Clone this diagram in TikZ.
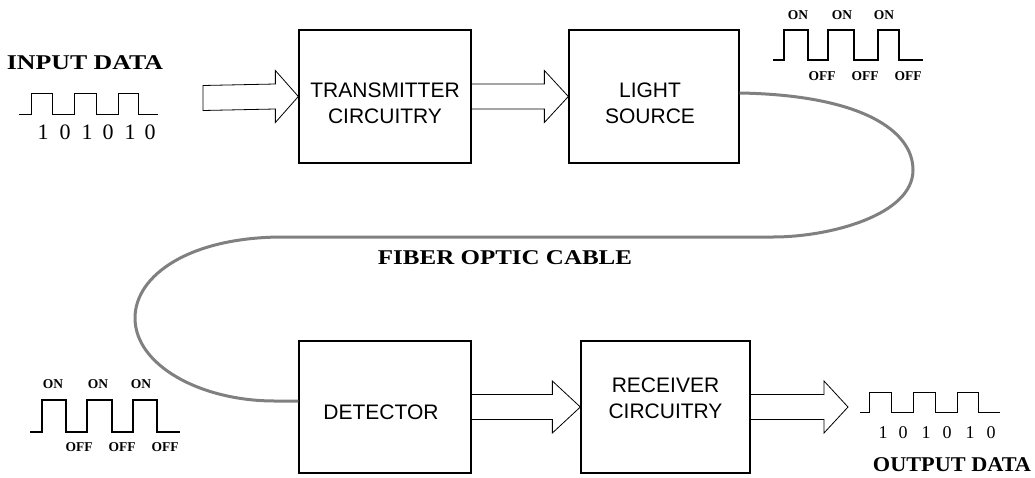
\documentclass[tikz,border=0pt]{standalone}
\usepackage{fontspec}
\setmainfont{Liberation Serif}
\newfontfamily\arialf{Liberation Sans}
\usetikzlibrary{calc}
\newcommand\blockarr[3]{%
  \draw[blk] ($(#1)+(0,-12.5)$) -- ($(#2)+(-#3,-12.5)$) -- ($(#2)+(-#3,-26)$) -- (#2)
    -- ($(#2)+(-#3,26)$) -- ($(#2)+(-#3,12.5)$) -- ($(#1)+(0,12.5)$);}
\begin{document}
\begin{tikzpicture}[x=1pt,y=-1pt,
  box/.style={draw,line width=1.3pt,rectangle,inner sep=0pt},
  boxtext/.style={font=\arialf\fontsize{21}{26}\selectfont,align=center,inner sep=0pt},
  blk/.style={draw,line width=0.8pt,line join=miter},
  fiber/.style={draw=black!50,line width=3pt},
  wave/.style={draw,line width=0.8pt},
  pulse/.style={draw,line width=2.6pt,line join=miter},
  onoff/.style={font=\bfseries\fontsize{13.5}{14}\selectfont,inner sep=0pt},
  title/.style={font=\bfseries\fontsize{21}{24}\selectfont,inner sep=0pt},
  digit/.style={font=\fontsize{22}{24}\selectfont,inner sep=0pt},
  odigit/.style={font=\fontsize{18}{20}\selectfont,inner sep=0pt}]
\useasboundingbox[fill=white] (0,0) rectangle (1035,477);

% boxes
\node[box,minimum width=172,minimum height=133] (tx) at (385,96.5) {};
\node[boxtext] (txl) at ($(tx)+(0,7)$) {TRANSMITTER\\CIRCUITRY};
\node[box,minimum width=170,minimum height=133] (ls) at (654,96.5) {};
\node[boxtext] (lsl) at ($(ls)+(-4,7)$) {LIGHT\\SOURCE};
\node[box,minimum width=172,minimum height=132] (dt) at (385,407) {};
\node[boxtext] (dtl) at ($(dt)+(-4,5)$) {DETECTOR};
\node[box,minimum width=169,minimum height=132] (rx) at (665.5,407) {};
\node[boxtext] (rxl) at ($(rx)+(0,-8.5)$) {RECEIVER\\CIRCUITRY};

% block arrows
\coordinate (in0) at (203,98);
\coordinate (out1) at (848,407);
\draw[blk] ($(in0)+(0,-12.5)$) -- ($(tx.west)+(-23,-12.5)$) -- ($(tx.west)+(-23,-26)$) -- (tx.west)
    -- ($(tx.west)+(-23,26)$) -- ($(tx.west)+(-23,12.5)$) -- ($(in0)+(0,12.5)$) -- cycle;
\blockarr{tx.east}{ls.west}{24}
\blockarr{dt.east}{rx.west}{28}
\blockarr{rx.east}{out1}{24}

% fiber optic cable
\coordinate (f1) at (913,170);
\coordinate (f2) at (773,237);
\coordinate (f3) at (283,237);
\coordinate (f4) at (135,318);
\coordinate (f5) at (275,401);
\draw[fiber] ($(ls.east)+(0,-3.5)$) .. controls (860,95) and (913,130) .. (f1)
  .. controls (913,215) and (830,237) .. (f2) -- (f3)
  .. controls (190,237) and (135,275) .. (f4)
  .. controls (135,365) and (200,401) .. (f5) -- ($(dt.west)+(0,-6)$);
\node[title] (fib) at (505,258) {\scalebox{1.19}[1]{FIBER OPTIC CABLE}};

% input data
\node[title] (indata) at (85,63) {\scalebox{1.23}[1]{INPUT DATA}};
\draw[wave] (19,114) -- (31,114) -- (31,93) -- (52,93) -- (52,114) -- (74,114) -- (74,93)
  -- (96,93) -- (96,114) -- (118,114) -- (118,93) -- (138,93) -- (138,114) -- (158,114);
\foreach \x/\d [count=\i] in {43/1,65/0,87/1,108/0,130/1,150/0}
  \node[digit] (id\i) at (\x,132.5) {\d};

% light pulses after source
\draw[pulse] (773,60) -- (784,60) -- (784,30) -- (808,30) -- (808,60) -- (828,60) -- (828,30)
  -- (854,30) -- (854,60) -- (878,60) -- (878,30) -- (899,30) -- (899,60) -- (923,60);
\foreach \x [count=\i] in {798,842,884} \node[onoff] (ton\i) at (\x,15) {ON};
\foreach \x [count=\i] in {822,865,908} \node[onoff] (toff\i) at (\x,76) {OFF};

% light pulses before detector
\draw[pulse] (30,432) -- (42,432) -- (42,400) -- (66,400) -- (66,432) -- (87,432) -- (87,400)
  -- (112,400) -- (112,432) -- (133,432) -- (133,400) -- (157,400) -- (157,432) -- (180,432);
\foreach \x [count=\i] in {53,98,141} \node[onoff] (bon\i) at (\x,384) {ON};
\foreach \x [count=\i] in {79,122,165} \node[onoff] (boff\i) at (\x,447) {OFF};

% output data
\draw[wave] (860,412) -- (869,412) -- (869,392) -- (891,392) -- (891,412) -- (913,412) -- (913,392)
  -- (935,392) -- (935,412) -- (957,412) -- (957,392) -- (978,392) -- (978,412) -- (1000,412);
\foreach \x/\d [count=\i] in {883/1,903/0,926/1,947/0,970/1,991/0}
  \node[odigit] (od\i) at (\x,432.5) {\d};
\node[title] (outdata) at (952,465) {\scalebox{1.06}[1]{OUTPUT DATA}};
\end{tikzpicture}
\end{document}
